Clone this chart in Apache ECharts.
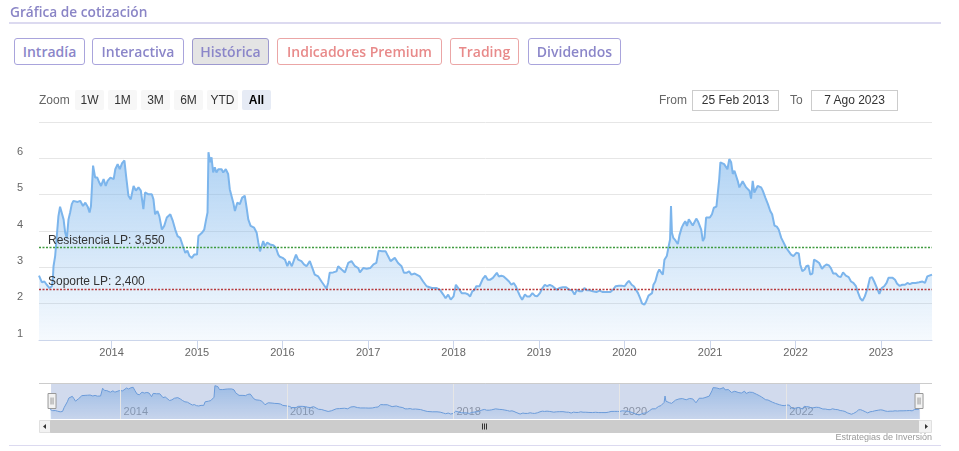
<!DOCTYPE html>
<html>
<head>
<meta charset="utf-8">
<script src="https://cdn.jsdelivr.net/npm/echarts@6/dist/echarts.min.js"></script>
<style>
html,body{margin:0;padding:0;background:#fff;width:959px;height:451px;overflow:hidden;}
#chart{position:absolute;left:0;top:0;width:959px;height:451px;}
.ui{position:absolute;box-sizing:border-box;white-space:nowrap;}
.title{left:10px;top:2px;font:600 13.7px 'Open Sans',sans-serif;color:#8a85c6;}
.sep{left:9px;width:932px;height:2px;background:#dcdaf0;}
.tab{top:38px;height:27px;font:600 14px 'Open Sans',sans-serif;line-height:25px;text-align:center;border:1px solid #a9a4dc;border-radius:3px;color:#8b86c9;background:#fff;}
.tab.red{border-color:#eba6a6;color:#e88a8a;}
.tab.sel{background:#e4e4e4;border-color:#9d99cf;}
.zl{top:93px;font:12px 'Liberation Sans',Arial,sans-serif;color:#666;}
.zb{top:90px;height:20px;font:12px 'Liberation Sans',Arial,sans-serif;line-height:20px;text-align:center;background:#f7f7f7;color:#333;border-radius:2px;}
.zb.on{background:#e6ebf5;font-weight:bold;color:#000;}
.inp{top:90px;height:21px;font:12px 'Liberation Sans',Arial,sans-serif;line-height:19px;text-align:center;border:1px solid #cccccc;color:#333;background:#fff;}
.credit{right:27px;top:432px;font:9px 'Liberation Sans',Arial,sans-serif;color:#999;}
</style>
</head>
<body>
<div id="chart"></div>
<div class="ui title">Gráfica de cotización</div>
<div class="ui sep" style="top:22px"></div>
<div class="ui tab" style="left:14px;width:71px">Intradía</div>
<div class="ui tab" style="left:92px;width:92px">Interactiva</div>
<div class="ui tab sel" style="left:192px;width:77px">Histórica</div>
<div class="ui tab red" style="left:277px;width:165px">Indicadores Premium</div>
<div class="ui tab red" style="left:450px;width:69px">Trading</div>
<div class="ui tab" style="left:528px;width:93px">Dividendos</div>
<div class="ui zl" style="left:39px">Zoom</div>
<div class="ui zb" style="left:75px;width:29px">1W</div>
<div class="ui zb" style="left:108px;width:29px">1M</div>
<div class="ui zb" style="left:141px;width:29px">3M</div>
<div class="ui zb" style="left:174px;width:29px">6M</div>
<div class="ui zb" style="left:207px;width:31px">YTD</div>
<div class="ui zb on" style="left:242px;width:29px">All</div>
<div class="ui zl" style="left:659px">From</div>
<div class="ui inp" style="left:692px;width:87px">25 Feb 2013</div>
<div class="ui zl" style="left:790px">To</div>
<div class="ui inp" style="left:811px;width:87px">7 Ago 2023</div>
<div class="ui credit">Estrategias de Inversión</div>
<div class="ui sep" style="top:445px;height:1px"></div>
<script>
// ---- data ----
const cot2013 = [['2013-02-25',2.77],['2013-03-09',2.59],['2013-03-20',2.61],['2013-03-30',2.52],['2013-04-11',2.43],['2013-04-21',2.48],['2013-04-25',2.66],['2013-04-28',3.03],['2013-05-05',3.31],['2013-05-12',3.86],['2013-05-19',4.41],['2013-05-26',4.67],['2013-06-03',4.64],['2013-06-10',4.32],['2013-06-17',3.95],['2013-06-24',3.80],['2013-07-01',4.32],['2013-07-08',4.51],['2013-07-15',4.74],['2013-07-22',4.83],['2013-07-29',4.78],['2013-08-09',4.80],['2013-08-20',4.83],['2013-09-01',4.69],['2013-09-11',4.78],['2013-09-21',4.67],['2013-09-29',4.51],['2013-10-05',4.69],['2013-10-14',5.80],['2013-10-23',5.47],['2013-11-01',5.47],['2013-11-09',5.34],['2013-11-17',5.24],['2013-11-28',5.43],['2013-12-07',5.24],['2013-12-15',5.38],['2013-12-27',5.47]];
const cot2014 = [['2014-01-10',5.43],['2014-01-17',5.70],['2014-01-27',5.84],['2014-02-05',5.70],['2014-02-15',5.87],['2014-02-25',5.94],['2014-03-04',5.52],['2014-03-14',4.97],['2014-03-24',4.87],['2014-04-05',5.24],['2014-04-15',5.11],['2014-04-26',5.20],['2014-05-06',5.11],['2014-05-17',4.60],['2014-05-24',5.06],['2014-06-08',5.01],['2014-06-22',5.01],['2014-06-29',4.87],['2014-07-06',4.46],['2014-07-16',4.55],['2014-07-24',4.41],['2014-08-04',4.04],['2014-08-14',4.14],['2014-08-25',4.37],['2014-09-09',4.46],['2014-09-20',4.27],['2014-09-30',4.04],['2014-10-10',3.86],['2014-10-21',3.81],['2014-11-02',3.58],['2014-11-12',3.40],['2014-11-21',3.46],['2014-11-30',3.31],['2014-12-10',3.26],['2014-12-20',3.35]];
const cot2015 = [['2015-01-01',3.35],['2015-01-07',3.86],['2015-01-22',3.95],['2015-02-01',4.04],['2015-02-09',4.32],['2015-02-15',4.51],['2015-02-19',6.17],['2015-02-26',5.89],['2015-03-04',6.03],['2015-03-11',5.61],['2015-03-18',5.75],['2015-03-25',5.61],['2015-04-02',5.70],['2015-04-16',5.70],['2015-04-23',5.61],['2015-05-04',5.70],['2015-05-14',5.57],['2015-05-21',5.15],['2015-05-28',5.11],['2015-06-05',4.78],['2015-06-12',4.55],['2015-06-22',4.78],['2015-07-03',4.74],['2015-07-13',4.92],['2015-07-24',4.97],['2015-08-01',4.64],['2015-08-08',4.32],['2015-08-18',4.14],['2015-09-02',4.09],['2015-09-13',3.95],['2015-09-20',3.68],['2015-09-27',3.44],['2015-10-04',3.58],['2015-10-11',3.72],['2015-10-18',3.58],['2015-10-28',3.68],['2015-11-09',3.63],['2015-11-23',3.61],['2015-12-04',3.54],['2015-12-14',3.35],['2015-12-21',3.29]];
const cot2016 = [['2016-01-02',3.26],['2016-01-12',3.21],['2016-01-22',3.03],['2016-01-30',3.17],['2016-02-10',3.03],['2016-02-20',3.21],['2016-02-28',3.35],['2016-03-08',3.21],['2016-03-22',3.17],['2016-04-02',3.08],['2016-04-13',3.03],['2016-04-27',3.17],['2016-05-08',2.98],['2016-05-18',2.80],['2016-06-02',2.75],['2016-06-16',2.61],['2016-06-30',2.48],['2016-07-07',2.41],['2016-07-14',2.57],['2016-07-21',2.85],['2016-08-05',2.86],['2016-08-19',2.89],['2016-08-26',3.03],['2016-09-10',2.94],['2016-09-24',2.86],['2016-10-08',3.12],['2016-10-22',3.17],['2016-11-06',3.03],['2016-11-20',2.98],['2016-11-27',2.86],['2016-12-11',2.98],['2016-12-18',3.03],['2016-12-26',2.96]];
const cot2017 = [['2017-01-10',2.98],['2017-01-24',3.08],['2017-02-05',3.12],['2017-02-15',3.46],['2017-03-01',3.44],['2017-03-09',3.40],['2017-03-17',3.44],['2017-03-27',3.31],['2017-04-07',3.17],['2017-04-15',3.12],['2017-04-25',3.26],['2017-05-09',3.12],['2017-05-24',3.03],['2017-06-03',2.85],['2017-06-14',2.85],['2017-06-25',2.89],['2017-07-05',2.80],['2017-07-19',2.83],['2017-08-10',2.75],['2017-08-24',2.61],['2017-09-08',2.48],['2017-09-30',2.43],['2017-10-21',2.43],['2017-11-04',2.38],['2017-11-18',2.25],['2017-11-28',2.15],['2017-12-09',2.25],['2017-12-20',2.11]];
const cot2018 = [['2018-01-01',2.20],['2018-01-11',2.52],['2018-01-21',2.43],['2018-02-05',2.29],['2018-02-19',2.29],['2018-03-03',2.26],['2018-03-13',2.20],['2018-03-22',2.34],['2018-04-01',2.38],['2018-04-08',2.48],['2018-04-22',2.48],['2018-05-06',2.68],['2018-05-17',2.77],['2018-05-27',2.66],['2018-06-07',2.66],['2018-06-18',2.71],['2018-06-25',2.68],['2018-07-05',2.85],['2018-07-13',2.75],['2018-07-24',2.77],['2018-08-03',2.75],['2018-08-15',2.68],['2018-08-26',2.61],['2018-09-05',2.52],['2018-09-15',2.57],['2018-09-24',2.48],['2018-10-03',2.34],['2018-10-11',2.22],['2018-10-21',2.11],['2018-11-02',2.25],['2018-11-11',2.20],['2018-11-23',2.20],['2018-12-04',2.29],['2018-12-14',2.22],['2018-12-24',2.20]];
const cot2019 = [['2019-01-05',2.29],['2019-01-16',2.43],['2019-01-26',2.52],['2019-02-05',2.48],['2019-02-16',2.52],['2019-02-28',2.48],['2019-03-08',2.43],['2019-03-18',2.38],['2019-03-29',2.43],['2019-04-13',2.45],['2019-04-27',2.45],['2019-05-11',2.38],['2019-05-22',2.37],['2019-06-02',2.25],['2019-06-12',2.38],['2019-06-23',2.34],['2019-07-04',2.34],['2019-07-14',2.43],['2019-07-24',2.37],['2019-08-05',2.37],['2019-08-19',2.34],['2019-09-03',2.32],['2019-09-17',2.36],['2019-10-01',2.32],['2019-10-15',2.32],['2019-11-02',2.32],['2019-11-13',2.38],['2019-11-24',2.48],['2019-12-08',2.49],['2019-12-23',2.49]];
const cot2020 = [['2020-01-02',2.48],['2020-01-12',2.57],['2020-01-20',2.63],['2020-02-01',2.52],['2020-02-10',2.48],['2020-02-18',2.40],['2020-02-28',2.29],['2020-03-08',2.15],['2020-03-16',2.01],['2020-03-26',1.97],['2020-04-03',2.06],['2020-04-13',2.22],['2020-04-20',2.27],['2020-04-28',2.29],['2020-05-04',2.52],['2020-05-12',2.61],['2020-05-22',2.85],['2020-05-29',2.94],['2020-06-06',2.86],['2020-06-13',2.80],['2020-06-20',3.21],['2020-06-30',3.31],['2020-07-08',3.58],['2020-07-14',3.77],['2020-07-18',4.69],['2020-07-22',3.95],['2020-07-28',3.81],['2020-08-06',3.74],['2020-08-16',3.64],['2020-08-23',3.88],['2020-09-02',4.10],['2020-09-10',4.20],['2020-09-17',4.27],['2020-09-24',4.14],['2020-10-02',4.32],['2020-10-10',4.34],['2020-10-19',4.15],['2020-10-26',4.18],['2020-11-03',4.34],['2020-11-10',4.27],['2020-11-17',4.27],['2020-11-24',4.04],['2020-12-01',3.72],['2020-12-08',3.81],['2020-12-15',4.37],['2020-12-22',4.41],['2020-12-31',4.37]];
const cot2021 = [['2021-01-09',4.46],['2021-01-17',4.64],['2021-01-28',4.67],['2021-02-02',4.69],['2021-02-09',5.43],['2021-02-14',5.89],['2021-02-22',5.94],['2021-03-02',5.84],['2021-03-10',5.89],['2021-03-16',5.70],['2021-03-24',5.98],['2021-04-01',5.89],['2021-04-08',5.57],['2021-04-15',5.66],['2021-04-22',5.61],['2021-04-29',5.38],['2021-05-06',5.20],['2021-05-13',5.24],['2021-05-20',5.37],['2021-05-27',5.34],['2021-06-04',5.20],['2021-06-11',5.20],['2021-06-18',5.11],['2021-06-25',4.89],['2021-07-02',5.38],['2021-07-09',5.06],['2021-07-16',5.01],['2021-07-23',5.24],['2021-07-30',5.29],['2021-08-07',5.20],['2021-08-14',5.11],['2021-08-25',4.92],['2021-09-05',4.74],['2021-09-15',4.55],['2021-09-23',4.46],['2021-10-03',4.15],['2021-10-13',4.12],['2021-10-21',4.04],['2021-11-01',3.81],['2021-11-08',3.72],['2021-11-15',3.63],['2021-11-22',3.54],['2021-12-03',3.44],['2021-12-13',3.35],['2021-12-23',3.31]];
const cot2022 = [['2022-01-04',3.40],['2022-01-15',3.38],['2022-01-21',3.08],['2022-01-30',2.89],['2022-02-09',2.94],['2022-02-16',3.03],['2022-02-25',3.05],['2022-03-05',2.80],['2022-03-14',2.83],['2022-03-21',3.21],['2022-04-01',3.17],['2022-04-12',3.12],['2022-04-24',2.96],['2022-05-03',3.03],['2022-05-13',3.08],['2022-05-24',3.05],['2022-06-01',2.98],['2022-06-11',2.83],['2022-06-22',2.83],['2022-07-03',2.75],['2022-07-13',2.73],['2022-07-23',2.86],['2022-08-04',2.77],['2022-08-16',2.73],['2022-08-26',2.61],['2022-09-05',2.57],['2022-09-16',2.48],['2022-09-26',2.29],['2022-10-04',2.15],['2022-10-14',2.08],['2022-10-24',2.20],['2022-11-05',2.43],['2022-11-15',2.71],['2022-11-24',2.73],['2022-12-03',2.61],['2022-12-15',2.43],['2022-12-25',2.27]];
const cot2023 = [['2023-01-04',2.43],['2023-01-15',2.48],['2023-01-25',2.57],['2023-02-02',2.71],['2023-02-09',2.66],['2023-02-20',2.71],['2023-03-02',2.66],['2023-03-11',2.55],['2023-03-22',2.49],['2023-04-02',2.52],['2023-04-14',2.52],['2023-04-24',2.57],['2023-05-04',2.54],['2023-05-15',2.57],['2023-05-29',2.57],['2023-06-13',2.59],['2023-06-27',2.61],['2023-07-08',2.57],['2023-07-18',2.75],['2023-07-25',2.80],['2023-08-07',2.80]];

const rangeDates = ['2013-02-25','2023-08-07'];
const yearLabels = ['2014','2015','2016','2017','2018','2019','2020','2021','2022','2023'];
const navYearLabels = ['2014','2016','2018','2020','2022'];
const yTickRange = [1, 7, 1];
const resistenciaLP = 3.55;
const soporteLP = 2.40;

// ---- build chart ----
function ts(s){const p=s.split('-').map(Number);return new Date(p[0],(p[1]||1)-1,p[2]||1).getTime();}
const serie = [].concat(cot2013,cot2014,cot2015,cot2016,cot2017,cot2018,cot2019,cot2020,cot2021,cot2022,cot2023)
  .map(d => [ts(d[0]), d[1]]);
const xMin = ts(rangeDates[0]), xMax = ts(rangeDates[1]);
const yearTs = yearLabels.map(ts);
const navYearTs = navYearLabels.map(ts);
const fmtYear = v => String(new Date(v).getFullYear());
const fmtNum = v => v.toFixed(3).replace('.', ',');
const FONT = "'Liberation Sans', Arial, sans-serif";

const chart = echarts.init(document.getElementById('chart'), null, {renderer:'canvas'});
chart.setOption({
  animation:false,
  backgroundColor:'transparent',
  grid:[
    {left:39, top:122, width:893, height:218, outerBoundsMode:'none', containLabel:false},
    {left:50, top:383, width:869, height:36, outerBoundsMode:'none', containLabel:false}
  ],
  xAxis:[
    {type:'value', gridIndex:0, min:xMin, max:xMax, scale:true,
     axisLine:{show:true, lineStyle:{color:'#ccd6eb', width:1}},
     axisTick:{show:true, length:9, customValues:yearTs, lineStyle:{color:'#ccd6eb'}},
     axisLabel:{customValues:yearTs, formatter:fmtYear, color:'#666', fontSize:11, fontFamily:FONT, margin:7},
     splitLine:{show:false}},
    {type:'value', gridIndex:1, min:xMin, max:xMax, scale:true,
     axisLine:{show:false}, axisTick:{show:false, customValues:navYearTs},
     axisLabel:{customValues:navYearTs, formatter:fmtYear, inside:true, color:'#999', fontSize:11, fontFamily:FONT, align:'left', padding:[0,0,0,3], margin:2},
     splitLine:{show:false}}
  ],
  yAxis:[
    {type:'value', gridIndex:0, min:yTickRange[0], max:yTickRange[1], interval:yTickRange[2],
     axisLine:{show:false}, axisTick:{show:false},
     splitLine:{show:true, lineStyle:{color:'#e6e6e6', width:1}},
     axisLabel:{showMaxLabel:false, color:'#666', fontSize:11, fontFamily:FONT, verticalAlign:'bottom', margin:16, padding:[0,0,1,0]}},
    {type:'value', gridIndex:1, min:1.4, max:6.55, show:false}
  ],
  series:[
    {type:'line', name:'Cotización', xAxisIndex:0, yAxisIndex:0, data:serie,
     symbol:'none', showSymbol:false, smooth:false,
     lineStyle:{color:'#7cb5ec', width:2}, itemStyle:{color:'#7cb5ec'},
     areaStyle:{origin:'start', color:{type:'linear', x:0, y:122, x2:0, y2:340, global:true,
       colorStops:[{offset:0,color:'rgba(124,181,236,0.98)'},{offset:1,color:'rgba(124,181,236,0.1)'}]}},
     markLine:{silent:true, symbol:'none', animation:false,
       label:{position:'insideStartTop', color:'#333', fontSize:12, fontFamily:FONT, distance:[9,1]},
       data:[
         {yAxis:resistenciaLP, lineStyle:{color:'#3f9b3f', type:[2,1.5], width:1.3},
          label:{formatter:'Resistencia LP: ' + fmtNum(resistenciaLP)}},
         {yAxis:soporteLP, lineStyle:{color:'#b8393c', type:[2,1.5], width:1.3},
          label:{formatter:'Soporte LP: ' + fmtNum(soporteLP)}}
       ]}},
    {type:'line', name:'Navigator', xAxisIndex:1, yAxisIndex:1, data:serie,
     symbol:'none', showSymbol:false,
     lineStyle:{color:'#6da5e3', width:1},
     areaStyle:{origin:'start', color:{type:'linear', x:0, y:383, x2:0, y2:419, global:true,
       colorStops:[{offset:0,color:'rgba(124,181,236,0.85)'},{offset:1,color:'rgba(124,181,236,0.15)'}]}},
     markLine:{silent:true, symbol:'none', animation:false, label:{show:false},
       lineStyle:{color:'#e6e6e6', type:'solid', width:1},
       data: navYearTs.map(v => ({xAxis:v}))}}
  ],
  dataZoom:[
    {type:'slider', xAxisIndex:0, left:50, width:869, top:383, height:36, start:0, end:100,
     filterMode:'none', showDataShadow:false, showDetail:false, brushSelect:false, moveHandleSize:0,
     backgroundColor:'rgba(0,0,0,0)', borderColor:'rgba(0,0,0,0)',
     fillerColor:'rgba(102,133,194,0.3)',
     handleIcon:'path://M0,0H8V15H0ZM3,4V11M5,4V11', handleSize:15,
     handleStyle:{color:'#f2f2f2', borderColor:'#999', borderWidth:1},
     emphasis:{handleStyle:{color:'#f2f2f2', borderColor:'#999'}},
     dataBackground:{lineStyle:{opacity:0}, areaStyle:{opacity:0}},
     selectedDataBackground:{lineStyle:{opacity:0}, areaStyle:{opacity:0}}}
  ],
  graphic:[
    {type:'line', shape:{x1:39, y1:383.5, x2:932, y2:383.5}, style:{stroke:'#cccccc', lineWidth:1}, z:10},
    {type:'rect', shape:{x:39.5, y:420.5, width:892, height:12}, style:{fill:'#f2f2f2', stroke:'#e0e0e0', lineWidth:1}},
    {type:'rect', shape:{x:50.5, y:420.5, width:868, height:12}, style:{fill:'#cccccc', stroke:'#cccccc', lineWidth:1}},
    {type:'polygon', shape:{points:[[43,426.5],[46,424],[46,429]]}, style:{fill:'#333'}},
    {type:'polygon', shape:{points:[[928,426.5],[925,424],[925,429]]}, style:{fill:'#333'}},
    {type:'line', shape:{x1:482.5, y1:423.5, x2:482.5, y2:429.5}, style:{stroke:'#333', lineWidth:1}},
    {type:'line', shape:{x1:484.5, y1:423.5, x2:484.5, y2:429.5}, style:{stroke:'#333', lineWidth:1}},
    {type:'line', shape:{x1:486.5, y1:423.5, x2:486.5, y2:429.5}, style:{stroke:'#333', lineWidth:1}}
  ]
});
</script>
</body>
</html>
